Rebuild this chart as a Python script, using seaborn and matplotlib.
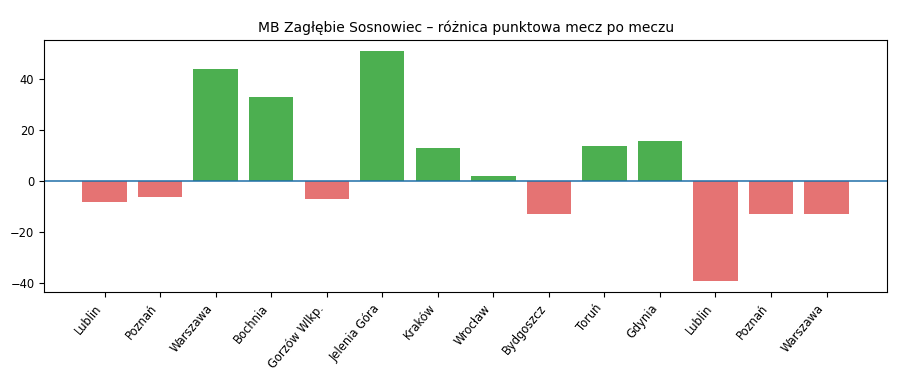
import matplotlib
matplotlib.use("Agg")
import matplotlib.pyplot as plt
import seaborn as sns
import pandas as pd

# match by match point differences
opponents = ["Lublin", "Poznań", "Warszawa", "Bochnia", "Gorzów Wlkp.", "Jelenia Góra",
             "Kraków", "Wrocław", "Bydgoszcz", "Toruń", "Gdynia", "Lublin", "Poznań", "Warszawa"]
diffs = [-8, -6, 44, 33, -7, 51, 13, 2, -13, 14, 16, -39, -13, -13]

df = pd.DataFrame({"mecz": range(len(opponents)), "roznica": diffs})
colors = ["#4caf50" if d > 0 else "#e57373" for d in diffs]

fig, ax = plt.subplots(figsize=(9, 3.76), dpi=100)
sns.barplot(data=df, x="mecz", y="roznica", hue="mecz", palette=colors,
            legend=False, width=0.8, saturation=1, ax=ax)

# put matplotlib's default margins back instead of seaborn's fixed limits
ax.autoscale(enable=True, axis="x")
ax.margins(x=0.05)

ax.axhline(0, color="#1f6fa8", linewidth=1.1)
ax.set_xticks(range(len(opponents)))
ax.set_xticklabels(opponents, rotation=50, ha="right", fontsize=8.3)
ax.tick_params(axis="y", labelsize=8.3)
ax.set_xlabel("")
ax.set_ylabel("")
ax.set_title("MB Zagłębie Sosnowiec – różnica punktowa mecz po meczu", fontsize=10)

fig.subplots_adjust(left=0.049, right=0.9856, top=0.894, bottom=0.223)
plt.savefig("out.png", dpi=100)
